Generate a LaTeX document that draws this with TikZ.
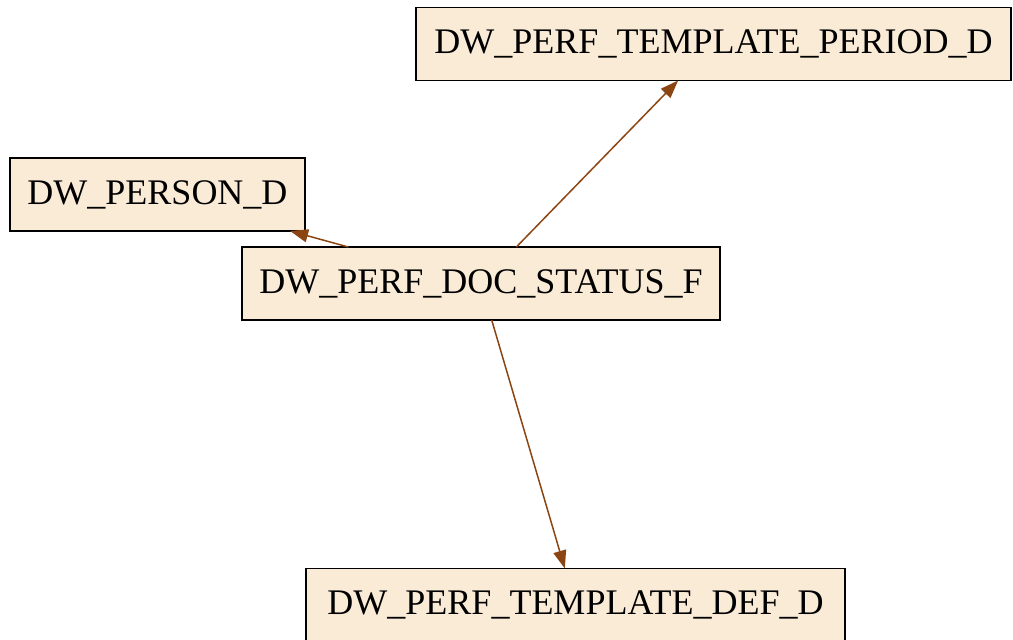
\documentclass[tikz,border=0pt]{standalone}
\usepackage{fontspec}
\setmainfont{Liberation Serif}
\usetikzlibrary{arrows.meta}
\definecolor{boxfill}{HTML}{FAEBD7}
\definecolor{edgecol}{HTML}{8B4513}
\tikzset{
  tbl/.style={draw=black, line width=1.6pt, fill=boxfill, inner sep=0pt, outer sep=0pt,
    minimum height=73pt, font=\fontsize{36}{43}\selectfont, anchor=center},
  fk/.style={draw=edgecol, line width=1.5pt, -{Triangle[length=18pt,width=13pt,fill=edgecol]}}
}
\begin{document}
\begin{tikzpicture}[x=1pt,y=-1pt]
\useasboundingbox (0,0) rectangle (1013,640);
\node[tbl, minimum width=595pt] (period) at (713.5,44) {DW\_PERF\_TEMPLATE\_PERIOD\_D};
\node[tbl, minimum width=295pt] (person) at (157.5,194.5) {DW\_PERSON\_D};
\node[tbl, minimum width=478pt] (fact) at (481,283.5) {DW\_PERF\_DOC\_STATUS\_F};
\node[tbl, minimum width=539pt] (def) at (575.5,605) {DW\_PERF\_TEMPLATE\_DEF\_D};
\draw[fk] (fact) -- (period);
\draw[fk] (fact) -- (person);
\draw[fk] (fact) -- (def);
\end{tikzpicture}
\end{document}
